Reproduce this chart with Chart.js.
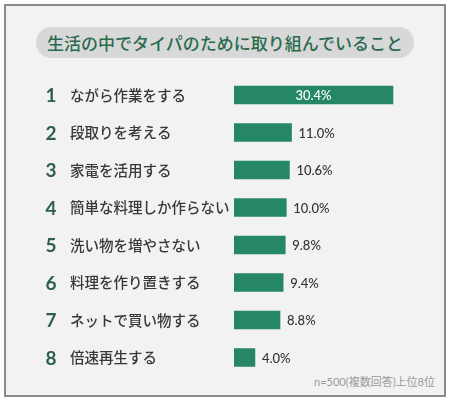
<!DOCTYPE html>
<html><head><meta charset="utf-8">
<script src="https://cdn.jsdelivr.net/npm/chart.js@4"></script>
<style>
html,body{margin:0;padding:0;background:#fff;}
#wrap{position:relative;width:450px;height:401px;overflow:hidden;}
#frame{position:absolute;left:4px;top:4px;width:438px;height:389px;border:2px solid #8a8a8a;background:#f2f2f2;}
#title{position:absolute;left:36px;top:27px;width:378px;height:31px;border-radius:16px;background:#d8d8d8;color:#2a6b4d;font-family:"Noto Sans CJK JP";font-weight:500;font-size:17px;line-height:31px;text-align:center;}
#note{position:absolute;right:15px;top:373px;color:#9a9a9a;font-family:Lato,"Noto Sans CJK JP";font-size:11px;}
canvas{position:absolute;left:0;top:0;}
</style></head>
<body><div id="wrap"><div id="frame"></div><div id="title">生活の中でタイパのために取り組んでいること</div><div id="note">n=500(複数回答)上位8位</div><canvas id="c" width="450" height="401"></canvas></div>
<script>
const ranks = ["1","2","3","4","5","6","7","8"];
const categories = ["ながら作業をする","段取りを考える","家電を活用する","簡単な料理しか作らない","洗い物を増やさない","料理を作り置きする","ネットで買い物する","倍速再生する"];
const values = [30.4,11.0,10.6,10.0,9.8,9.4,8.8,4.0];
const valueLabels = ["30.4%","11.0%","10.6%","10.0%","9.8%","9.4%","8.8%","4.0%"];

const labelPlugin = {
  id:'labels',
  afterDatasetsDraw(chart){
    const ctx = chart.ctx, ys = chart.scales.y, xs = chart.scales.x;
    ctx.save();
    ctx.textBaseline='middle';
    categories.forEach((c,i)=>{
      const y = ys.getPixelForValue(i);
      ctx.fillStyle='#2d5f4b';
      ctx.font='700 19px Lato';
      ctx.textAlign='center';
      ctx.fillText(ranks[i],51,y+1);
      ctx.fillStyle='#383838';
      ctx.font='500 14.5px "Noto Sans CJK JP"';
      ctx.textAlign='left';
      ctx.fillText(c,70,y);
      const xe = xs.getPixelForValue(values[i]);
      ctx.font='500 13px Lato';
      if(i===0){
        ctx.fillStyle='#ffffff';
        ctx.textAlign='center';
        ctx.fillText(valueLabels[i],(xs.getPixelForValue(0)+xe)/2,y+1);
      } else {
        ctx.fillStyle='#333333';
        ctx.textAlign='left';
        ctx.fillText(valueLabels[i],xe+7,y+1);
      }
    });
    ctx.restore();
  }
};

new Chart(document.getElementById('c'),{
  type:'bar',
  data:{labels:categories,datasets:[{data:values,backgroundColor:'#268764',barThickness:18,borderWidth:0}]},
  options:{
    indexAxis:'y',responsive:false,animation:false,devicePixelRatio:1,
    layout:{padding:{left:234,right:33,top:76.25,bottom:24.75}},
    plugins:{legend:{display:false},tooltip:{enabled:false}},
    scales:{
      x:{display:false,min:0,max:35,grid:{display:false}},
      y:{display:false,offset:true,grid:{display:false}}
    }
  },
  plugins:[labelPlugin]
});
</script></body></html>
